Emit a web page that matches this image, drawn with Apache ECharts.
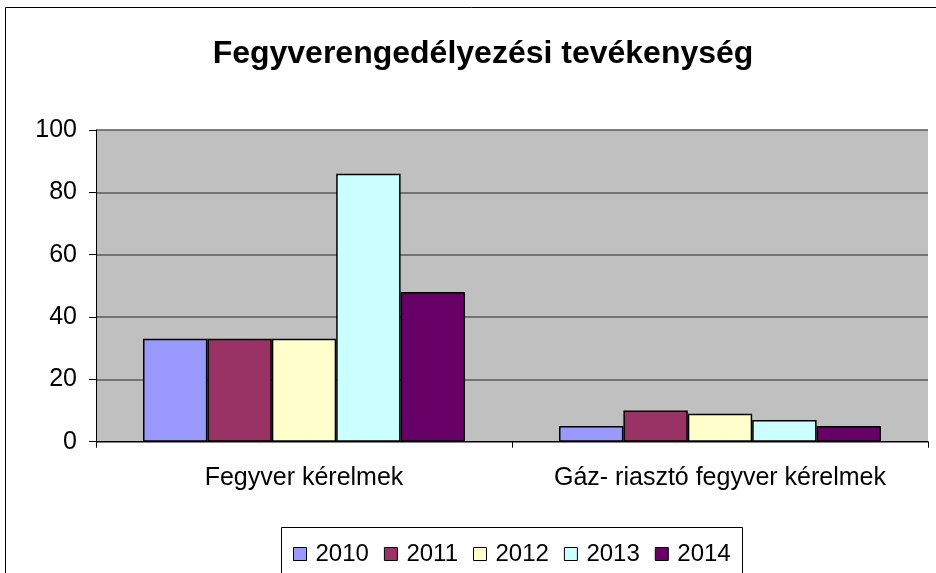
<!DOCTYPE html>
<html><head><meta charset="utf-8">
<script src="https://cdn.jsdelivr.net/npm/echarts@6/dist/echarts.min.js"></script>
<style>html,body{margin:0;padding:0;background:#fff}#c{width:936px;height:573px}</style>
</head><body><div id="c"></div>
<script>
const categories = ['Fegyver kérelmek', 'Gáz- riasztó fegyver kérelmek'];
const years = ['2010', '2011', '2012', '2013', '2014'];
const v2010 = [33, 5];
const v2011 = [33, 10];
const v2012 = [33, 9];
const v2013 = [86, 7];
const v2014 = [48, 5];
const yTicks = [0, 20, 40, 60, 80, 100];
const colors = ['#9999FF', '#993366', '#FFFFCC', '#CCFFFF', '#660066'];
const values = [v2010, v2011, v2012, v2013, v2014];
const font = 'Liberation Sans, Arial, sans-serif';

const chart = echarts.init(document.getElementById('c'));
chart.setOption({
  animation: false,
  title: {
    text: 'Fegyverengedélyezési tevékenység',
    left: 478, top: 33, textAlign: 'center',
    textStyle: {fontFamily: font, fontSize: 32, fontWeight: 'bold', color: '#000'}
  },
  graphic: [{
    type: 'rect', shape: {x: 5.5, y: 7.5, width: 940, height: 580},
    style: {fill: 'none', stroke: '#000', lineWidth: 1}, silent: true, z: -10
  }, {
    type: 'rect', shape: {x: 281.5, y: 527.5, width: 461, height: 46},
    style: {fill: '#fff', stroke: '#000', lineWidth: 1}, silent: true, z: -1
  }],
  grid: {left: 96, right: 8, top: 130, bottom: 131.3, containLabel: false,
    show: true, backgroundColor: '#C0C0C0', borderWidth: 0},
  legend: {
    data: years, left: 288, top: 537, itemGap: 15, itemWidth: 13, itemHeight: 13,
    icon: 'rect',
    textStyle: {fontFamily: font, fontSize: 24, color: '#000', padding: [0,0,0,4]},
    itemStyle: {borderColor: '#000', borderWidth: 1}
  },
  xAxis: {
    type: 'category', data: categories,
    axisLine: {show: true, lineStyle: {color: '#000', width: 1}},
    axisTick: {show: true, length: 6, lineStyle: {color: '#000'}},
    axisLabel: {fontFamily: font, fontSize: 25, color: '#000', margin: 24,
      interval: 0, hideOverlap: false}
  },
  yAxis: {
    type: 'value', min: 0, max: 100, interval: 20,
    axisLine: {show: true, lineStyle: {color: '#000', width: 1}},
    axisTick: {show: true, length: 7, lineStyle: {color: '#000'}},
    axisLabel: {fontFamily: font, fontSize: 25, color: '#000', margin: 19,
      formatter: v => yTicks.includes(v) ? String(v) : ''},
    splitLine: {show: true, lineStyle: {color: '#5a5a5a', width: 1.5}}
  },
  series: years.map((y, i) => ({
    name: y, type: 'bar', data: values[i],
    barGap: '0%', barCategoryGap: '22.6%',
    itemStyle: {color: colors[i], borderColor: '#000', borderWidth: 1.5}
  }))
});
</script></body></html>
